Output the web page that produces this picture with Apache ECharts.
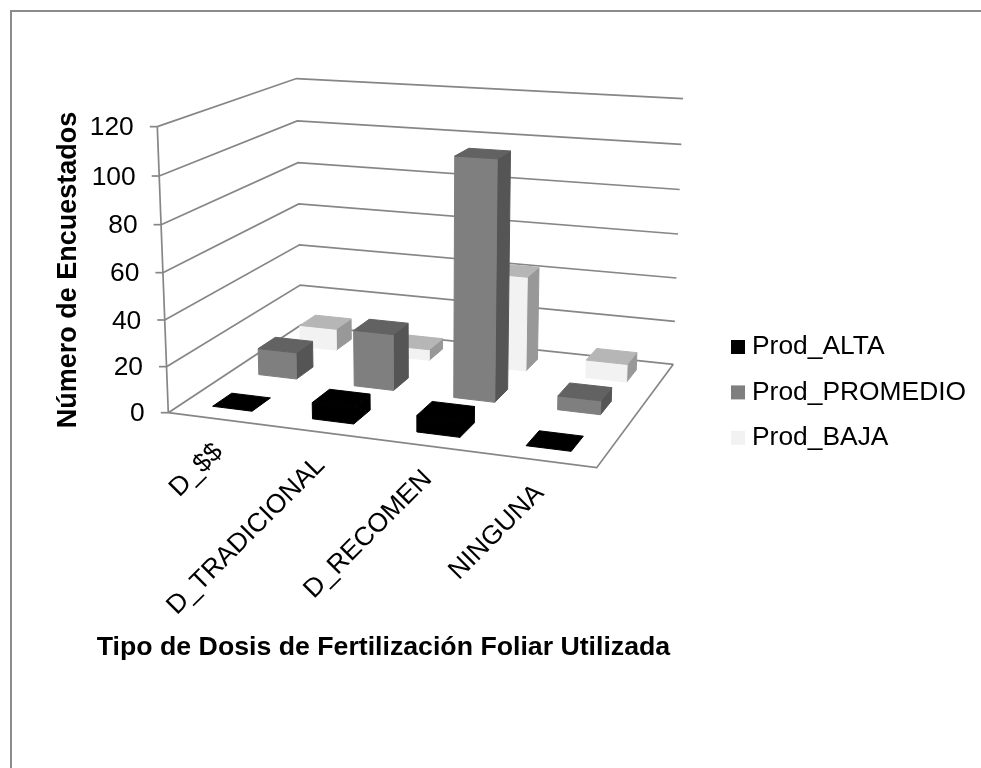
<!DOCTYPE html>
<html>
<head>
<meta charset="utf-8">
<style>html,body{margin:0;padding:0;background:#fff}#c{width:981px;height:768px}</style>
<script src="https://cdn.jsdelivr.net/npm/echarts@6/dist/echarts.min.js"></script>
</head>
<body>
<div id="c"></div>
<script>
// ---- data ----
const categories = ['D_$$', 'D_TRADICIONAL', 'D_RECOMEN', 'NINGUNA'];
const prodAlta = [0, 7, 7, 0];
const prodPromedio = [12, 25, 104, 6];
const prodBaja = [10, 5, 43, 8];
const yTicks = [0, 20, 40, 60, 80, 100, 120];
const seriesNames = ['Prod_ALTA', 'Prod_PROMEDIO', 'Prod_BAJA'];
const xTitle = 'Tipo de Dosis de Fertilización Foliar Utilizada';
const yTitle = 'Número de Encuestados';

// ---- layout / style ----
const FONT = '"Liberation Sans", Arial, sans-serif';
const GRID = {left: 168, top: 127, width: 431, height: 286};
const FLOOR = [[168.3, 412.7], [596.7, 467.7], [673.3, 364.3], [301, 325]]; // front-left, front-right, back-right, back-left
const VP = [426.6, 7129], VW = -0.04085;
const BAR_FRAC = 0.4;
const AXIS_COLOR = '#868686';
const FACES = [
  {front: '#000000', top: '#000000', side: '#000000'},
  {front: '#7f7f7f', top: '#626262', side: '#555555'},
  {front: '#f2f2f2', top: '#b6b6b6', side: '#989898'}
];

// perspective box: u along categories, v in depth, z height (all 0..1)
const [P0, P1, P2, P3] = FLOOR;
const dx1 = [P1[0] - P2[0], P1[1] - P2[1]], dx2 = [P3[0] - P2[0], P3[1] - P2[1]];
const s = [P0[0] - P1[0] + P2[0] - P3[0], P0[1] - P1[1] + P2[1] - P3[1]];
const det = dx1[0] * dx2[1] - dx1[1] * dx2[0];
const g = (s[0] * dx2[1] - s[1] * dx2[0]) / det;
const h = (dx1[0] * s[1] - dx1[1] * s[0]) / det;
function project(u, v, z) {
  const w = 1 + g * u + h * v + VW * z;
  return [0, 1].map(k => (P0[k] + (P1[k] - P0[k] + g * P1[k]) * u + (P3[k] - P0[k] + h * P3[k]) * v + VP[k] * VW * z) / w);
}
const uOf = (api, x) => (x - GRID.left) / GRID.width;
const zOf = (api, y) => (GRID.top + GRID.height - y) / GRID.height;

function poly(points, fill) {
  return {type: 'polygon', shape: {points}, style: {fill, stroke: fill, lineWidth: 1, lineJoin: 'round'}};
}
function barItem(depth) {
  return function (params, api) {
    const pt = api.coord([api.value(0), api.value(1)]);
    const band = api.size([1, 0])[0] / GRID.width;
    const uc = uOf(api, pt[0]), z = zOf(api, pt[1]);
    const u0 = uc - band * BAR_FRAC / 2, u1 = uc + band * BAR_FRAC / 2;
    const vc = (depth + 0.5) / 3, dv = BAR_FRAC / 3 / 2;
    const v0 = vc - dv, v1 = vc + dv;
    const f = FACES[depth];
    const children = [];
    if (z > 0) {
      children.push(poly([project(u1, v0, 0), project(u1, v1, 0), project(u1, v1, z), project(u1, v0, z)], f.side));
      children.push(poly([project(u0, v0, 0), project(u1, v0, 0), project(u1, v0, z), project(u0, v0, z)], f.front));
    }
    children.push(poly([project(u0, v0, z), project(u1, v0, z), project(u1, v1, z), project(u0, v1, z)], f.top));
    return {type: 'group', children};
  };
}
function line(points) {
  return {type: 'polyline', shape: {points}, style: {stroke: AXIS_COLOR, lineWidth: 1.7, fill: null}};
}
function wallItem(params, api) {
  const z = zOf(api, api.coord([0, api.value(0)])[1]);
  const a = project(0, 0, z), b = project(0, 1, z), c = project(1, 1, z);
  const children = [line([a, b, c]), line([[a[0] - 7.5, a[1]], a])];
  if (params.dataIndex === 0) {
    children.push(line([project(0, 0, 0), project(1, 0, 0), project(1, 1, 0)]));
    children.push(line([project(0, 0, 0), project(0, 0, 1)]));
  }
  children.push({type: 'text', style: {x: a[0] - 23.5, y: a[1] + 1.5, text: String(api.value(0)), fill: '#000',
    font: '26.4px ' + FONT, align: 'right', verticalAlign: 'middle'}});
  return {type: 'group', children};
}
function catLabelItem(params, api) {
  const pt = api.coord([api.value(0), 0]);
  const p = project(uOf(api, pt[0]), 0, 0);
  return {type: 'text', x: p[0] + 1, y: p[1] + 29, rotation: Math.PI / 4,
    style: {x: 0, y: 0, text: categories[api.value(0)], fill: '#000', font: '26.4px ' + FONT, align: 'right', verticalAlign: 'middle'}};
}

const toData = vals => categories.map((c, i) => [i, vals[i]]);
function barSeries(name, vals, depth) {
  return {name, type: 'custom', coordinateSystem: 'cartesian2d', clip: false, z: 10 - depth,
    itemStyle: {color: FACES[depth].front}, renderItem: barItem(depth), encode: {x: 0, y: 1}, data: toData(vals), silent: true};
}

const chart = echarts.init(document.getElementById('c'), null, {renderer: 'canvas'});
chart.setOption({
  animation: false,
  backgroundColor: '#ffffff',
  textStyle: {fontFamily: FONT},
  grid: {left: GRID.left, top: GRID.top, width: GRID.width, height: GRID.height, containLabel: false},
  xAxis: {type: 'category', data: categories, position: 'bottom', axisLine: {show: false}, axisTick: {show: false},
    axisLabel: {show: false}, splitLine: {show: false},
    name: xTitle, nameLocation: 'middle', nameGap: 221,
    nameTextStyle: {fontFamily: FONT, fontWeight: 'bold', fontSize: 26.7, color: '#000'}},
  yAxis: {type: 'value', min: 0, max: 120, interval: 20, axisLine: {show: false}, axisTick: {show: false},
    axisLabel: {show: false}, splitLine: {show: false},
    name: yTitle, nameLocation: 'middle', nameGap: 86, nameRotate: 90,
    nameTextStyle: {fontFamily: FONT, fontWeight: 'bold', fontSize: 27, color: '#000'}},
  legend: {orient: 'vertical', left: 726, top: 329, itemWidth: 14, itemHeight: 14, itemGap: 19.4, data: seriesNames,
    selectedMode: false, icon: 'rect', itemStyle: {borderWidth: 0},
    textStyle: {fontFamily: FONT, fontSize: 26.4, lineHeight: 26, color: '#000', padding: [0, 0, 0, 2]}},
  graphic: [{type: 'polyline', silent: true, z: 0,
    shape: {points: [[11, 768], [11, 11], [981, 11]]},
    style: {stroke: '#8c8c8c', lineWidth: 2, fill: null}}],
  series: [
    {type: 'custom', name: 'walls', coordinateSystem: 'cartesian2d', clip: false, z: 1, silent: true,
      renderItem: wallItem, encode: {y: 0}, data: yTicks.map(v => [v])},
    {type: 'custom', name: 'labels', coordinateSystem: 'cartesian2d', clip: false, z: 2, silent: true,
      renderItem: catLabelItem, encode: {x: 0}, data: categories.map((c, i) => [i])},
    barSeries(seriesNames[2], prodBaja, 2),
    barSeries(seriesNames[1], prodPromedio, 1),
    barSeries(seriesNames[0], prodAlta, 0)
  ]
});
</script>
</body>
</html>
